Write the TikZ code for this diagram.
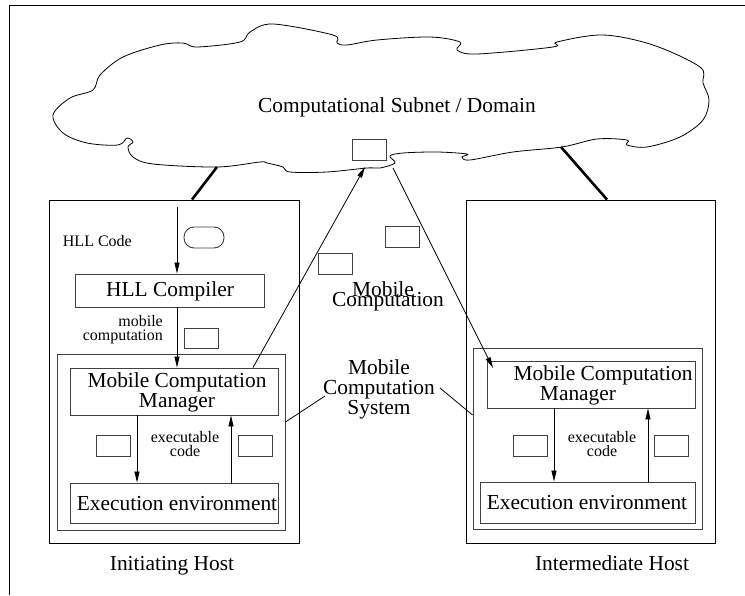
\documentclass[tikz,border=0pt]{standalone}
\usepackage{fontspec}
\setmainfont{Liberation Serif}
\usetikzlibrary{arrows.meta}
\newcommand\lbltxt{\fontsize{21.4}{20}\selectfont}
\newcommand\smtxt{\fontsize{16}{14}\selectfont}
\begin{document}
\begin{tikzpicture}[x=1pt,y=-1pt,
  box/.style={draw, line width=0.9pt, inner sep=0pt},
  inbox/.style={draw=black!75, line width=0.9pt, inner sep=0pt},
  token/.style={draw=black!75, line width=0.9pt, inner sep=0pt, minimum width=34pt, minimum height=21pt},
  flow/.style={-{Triangle[length=11pt,width=5pt]}, line width=0.8pt},
  link/.style={line width=2.6pt},
  conn/.style={line width=0.8pt},
  lbl/.style={inner sep=0pt, font=\lbltxt, align=center},
  sml/.style={inner sep=0pt, font=\smtxt, align=center}]

\useasboundingbox (0,0) rectangle (745,595);
\fill[white] (0,0) rectangle (745,595);
% open frame
\draw[line width=0.9pt] (745,5) -- (9,5) -- (9,595);

% the subnet cloud
\draw[line width=0.8pt] plot[smooth cycle, tension=0.55] coordinates {
 (53,115) (70,98) (93,90) (100,75) (123,57) (160,45) (183,43) (197,47)
 (240,42) (250,32) (273,24) (333,35) (337,43) (347,45) (377,40) (430,37)
 (460,42) (457,50) (477,54) (553,47) (557,42) (603,35) (653,45) (700,67)
 (703,83) (709,100) (703,120) (680,137) (647,147) (627,145) (627,140)
 (597,139) (562,147) (513,152) (470,160) (462,157) (467,154) (437,152)
 (403,153) (390,156) (395,163) (380,168) (367,168) (327,172) (290,172)
 (283,167) (267,163) (260,162) (217,167) (153,164) (133,157) (128,147)
 (133,142) (127,138) (118,145) (87,143) (63,133)};
\node[lbl] (subnet) at (397,107) {Computational Subnet / Domain};
\node[token] (ctok) at (369,149.5) {};

% initiating host
\node[box, minimum width=250pt, minimum height=343pt] (lhost) at (174,371.5) {};
\node[inbox, minimum width=228pt, minimum height=176pt] (linbox) at (171,442) {};
\node[inbox, minimum width=189pt, minimum height=33pt] (hll) at (169.5,290.5) {};
\node[lbl] (hlltext) at (170,291) {HLL Compiler};
\node[inbox, minimum width=208pt, minimum height=47pt] (lmcm) at (174,391.5) {};
\node[lbl] (lmcmtext) at (177,392) {Mobile Computation\\Manager};
\node[inbox, minimum width=208pt, minimum height=40pt] (lexec) at (174,503) {};
\node[lbl] (lexectext) at (177,504) {Execution environment};
\node[sml, anchor=east] (hllcode) at (132,241) {HLL Code};
\node[token, rounded corners=10pt, minimum width=40pt] (codetok) at (204,237.5) {};
\node[sml, anchor=east, align=right] (mobcomp) at (163,330) {mobile\\computation};
\node[token, minimum height=20pt] (mctok) at (201,338) {};
\node[token] (ltok1) at (113.5,445.5) {};
\node[token] (ltok2) at (255,445.5) {};
\node[sml] (lexcode) at (185,444) {executable\\code};
\node[lbl, anchor=base] (linit) at (172,570) {Initiating Host};

% intermediate host
\node[box, minimum width=249pt, minimum height=343pt] (rhost) at (590.5,371.5) {};
\node[inbox, minimum width=229pt, minimum height=181pt] (rinbox) at (587.5,438.5) {};
\node[inbox, minimum width=208pt, minimum height=47pt] (rmcm) at (591,384.5) {};
\node[lbl] (rmcmtext) at (603,385) {Mobile Computation\\Manager\hspace*{50pt}};
\node[inbox, minimum width=215pt, minimum height=41pt] (rexec) at (587.5,502.5) {};
\node[lbl] (rexectext) at (587,503) {Execution environment};
\node[token] (rtok1) at (530,446) {};
\node[token] (rtok2) at (671.5,446) {};
\node[sml] (rexcode) at (602,444) {executable\\code};
\node[lbl, anchor=base] (rinter) at (612,570) {Intermediate Host};

% travelling computation between the hosts
\node[token] (mtok1) at (402.5,237) {};
\node[token] (mtok2) at (335,264) {};
\node[lbl] (mmob) at (383,289) {Mobile};
\node[lbl] (mcomp) at (388,302) {Computation};
\node[lbl] (mcs) at (379,389) {Mobile\\Computation\\System};

% host links to the subnet
\coordinate (lc) at (217,167);
\coordinate (lj) at (192,0);
\draw[link] (lc) -- (lhost.north -| lj);
\coordinate (rc) at (561,147);
\coordinate (rj) at (607,0);
\draw[link] (rc) -- (rhost.north -| rj);

% flows in the initiating host
\coordinate (hlltop) at (177,207);
\draw[flow] (hlltop) -- (hlltop |- hll.north);
\draw[flow] (hll.south -| hlltop) -- (hlltop |- lmcm.north);
\coordinate (ld) at (137,0);
\coordinate (lu) at (231,0);
\draw[flow] (lmcm.south -| ld) -- (lexec.north -| ld);
\draw[flow] (lexec.north -| lu) -- (lmcm.south -| lu);

% flows in the intermediate host
\coordinate (rd) at (554,0);
\coordinate (ru) at (648,0);
\draw[flow] (rmcm.south -| rd) -- (rexec.north -| rd);
\draw[flow] (rexec.north -| ru) -- (rmcm.south -| ru);

% migration through the subnet
\coordinate (lout) at (253,0);
\coordinate (cin) at (365,167);
\draw[flow] (lmcm.north -| lout) -- (cin);
\coordinate (cout) at (393,168);
\coordinate (rin) at (493,368);
\draw[flow] (cout) -- (rin);

% system label pointers
\coordinate (sl1) at (325,396);
\coordinate (sl2) at (0,422);
\draw[conn] (sl1) -- (linbox.east |- sl2);
\coordinate (sr1) at (440,388);
\coordinate (sr2) at (0,415);
\draw[conn] (sr1) -- (rinbox.west |- sr2);
\end{tikzpicture}
\end{document}
